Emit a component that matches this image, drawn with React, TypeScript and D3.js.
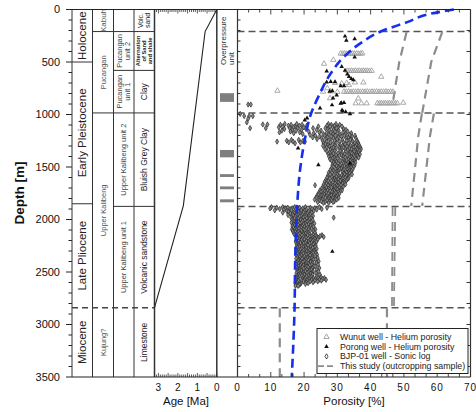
import React from 'react'
import * as d3 from 'd3'

const FONT = 'Liberation Sans, Arial, Helvetica, sans-serif'

// ---- axis labels
const depthLabels = [0, 500, 1000, 1500, 2000, 2500, 3000, 3500]
const ageLabels = [3, 2, 1, 0]
const porosityLabels = [0, 10, 20, 30, 40, 50, 60, 70]

// ---- stratigraphic columns (depth in m)
const epochs = [
  { name: ['Holocene'], top: 0, base: 500 },
  { name: ['Early Pleistocene'], top: 500, base: 1850 },
  { name: ['Late Pliocene'], top: 1850, base: 2840 },
  { name: ['Miocene'], top: 2840, base: 3500 },
]
const formations = [
  { name: ['Kabuh'], top: 0, base: 210 },
  { name: ['Pucangan'], top: 210, base: 985 },
  { name: ['Upper Kalibeng'], top: 985, base: 2840 },
  { name: ['Kujung?'], top: 2840, base: 3500 },
]
const units = [
  { name: ['Pucangan', 'unit 2'], top: 210, base: 580 },
  { name: ['Pucangan', 'unit 1'], top: 580, base: 985 },
  { name: ['Upper Kalibeng unit 2'], top: 985, base: 1875 },
  { name: ['Upper Kalibeng unit 1'], top: 1875, base: 2840 },
]
const lithology = [
  { name: ['Volc.', 'sand'], top: 0, base: 210 },
  { name: ['Alternation', 'of Sand', 'and shale'], top: 210, base: 580 },
  { name: ['Clay'], top: 580, base: 985 },
  { name: ['Bluish Grey Clay'], top: 985, base: 1875 },
  { name: ['Volcanic sandstone'], top: 1875, base: 2840 },
  { name: ['Limestone'], top: 2840, base: 3500 },
]
const epochLines = [500, 1850]
const formationLines = [210, 985]
const unitLines = [580, 1875]
const dashedBoundary = 2840
const porosityBoundaries = [210, 985, 1875, 2840]

// ---- age model [depth, age Ma]
const ageModel: [number, number][] = [[0, 0], [210, 0.6], [1870, 1.72], [2840, 3.2]]

// ---- overpressure units [top, base]
const overpressure: [number, number][] = [[797, 880], [1338, 1408], [1568, 1595], [1685, 1712], [1808, 1836]]

// ---- compaction trend [depth, porosity]
const trendCurve: [number, number][] = [
  [0, 65], [40, 58], [120, 51], [210, 43], [320, 37], [450, 32], [610, 28], [830, 24.3],
  [1000, 22], [1210, 20.4], [1500, 18.9], [1880, 17.9], [2290, 17.4], [2900, 17.1], [3500, 16.3],
]

// ---- this study (outcropping samples) [depth, porosity]
const studyLines: [number, number][][] = [
  [[215, 50.8], [500, 48.6], [900, 46.6]],
  [[215, 61.5], [500, 58.2], [985, 55.5]],
  [[990, 55.4], [1210, 54.3], [1870, 52.2]],
  [[990, 59.0], [1210, 57.8], [1870, 55.5]],
  [[1880, 46.6], [2840, 46.4]],
  [[1880, 47.4], [2840, 47.0]],
  [[2845, 12.7], [3500, 12.7]],
  [[2845, 44.9], [3500, 44.9]],
]

// ---- Wunut well helium porosity [depth, porosity]
const wunut: [number, number][] = [
  [420, 31], [421, 31.6], [420, 32.2], [422, 32.8], [419, 33.4], [421, 34], [420, 34.6], [422, 35.2],
  [419, 35.8], [421, 36.4], [420, 37], [418, 37.5], [480, 28.8],
  [517, 26], [584, 33], [585, 33.6], [584, 34.2], [586, 34.8], [583, 35.4], [585, 36], [584, 36.6],
  [586, 37.2], [583, 37.8], [585, 38.4], [584, 39], [586, 39.6], [584, 40.3],
  [641, 43.2], [700, 29.3], [705, 31.3], [700, 32.8], [695, 35.3], [695, 37.8], [720, 33.5],
  [774, 12], [783, 25.7], [781, 28], [785, 30], [783, 32], [784, 32.7], [782, 33.4], [785, 34.1],
  [783, 34.8], [784, 35.5], [782, 36.2], [785, 36.9], [783, 37.6], [784, 38.3], [782, 39], [785, 39.7],
  [783, 40.4], [784, 41.1], [782, 41.8], [785, 42.5], [783, 43.2], [784, 43.9], [782, 44.6], [785, 45.3],
  [783, 46], [784, 46.7], [750, 27], [845, 27.8], [847, 36.3], [894, 35.5], [894, 37.2], [894, 38.8],
  [893, 42], [895, 42.6], [893, 43.2], [894, 43.8], [892, 44.4], [895, 45], [893, 45.6], [894, 46.2],
  [892, 46.8], [894, 47.4], [893, 48], [888, 49.8],
]

// ---- Porong well helium porosity [depth, porosity]
const porong: [number, number][] = [
  [255, 32.3], [295, 32.7], [280, 35.2], [455, 35.2], [545, 31.3], [580, 32.3], [587, 26.8], [615, 33],
  [640, 33.5], [660, 34.2], [670, 34.8], [690, 29.3], [692, 26.8], [688, 28], [727, 31], [727, 32],
  [780, 27.7], [776, 28.5], [815, 29.8], [845, 28.7], [890, 31.2], [888, 32], [895, 31], [910, 28.4],
  [940, 24.8], [958, 31.4], [968, 31.6], [975, 32.5], [995, 33.8], [1035, 20.9], [1053, 20.2],
  [1320, 18.2], [1465, 33.8], [1481, 24.3], [2305, 28.5],
]

// ---- BJP-01 sonic log: [depth, porosity values...]
const sonicRows: number[][] = [
  [905, 3.2, 4.0], [995, 0.8], [1015, 2.0, 3.5, 4.6], [1040, 3.2], [1075, 2.8], [1095, 7.6, 9.0], [1130, 3.8, 8.5],
  [1090, 14.2, 17.8, 27.3, 29.6], [1098, 12.9, 16.1, 19.4, 28.2, 30.7], [1106, 15.3, 18.6, 20.8, 26.9, 29.1],
  [1114, 13.6, 17.2, 24.3, 27.8, 31.4], [1122, 12.4, 16.8, 19.9, 28.6, 30.2], [1130, 15.7, 18.1, 22.7, 26.4, 29.8],
  [1138, 14.1, 20.6, 27.2, 31.9], [1146, 16.4, 19.2, 23.8, 28.9, 32.6], [1154, 13.3, 17.6, 25.1, 27.6, 30.4],
  [1162, 15.9, 21.4, 29.3, 33.1], [1170, 12.6, 18.7, 24.6, 28.1, 31.7], [1178, 16.9, 22.9, 26.7, 30.1, 34.2],
  [1186, 19.6, 25.8, 28.7, 32.4], [1194, 21.8, 27.4, 30.9, 33.7], [1202, 23.4, 26.2, 29.4, 32.1, 35.3],
  [1210, 24.7, 28.3, 31.2, 34.4], [1218, 22.6, 27.1, 30.3, 33.2], [1226, 25.3, 28.8, 32.7, 35.6],
  [1234, 23.9, 26.6, 29.9, 34.1], [1242, 16.2, 18.4, 27.8, 31.5, 33.9], [1250, 14.8, 19.7, 25.6, 29.2, 32.8, 35.9],
  [1258, 11.9, 16.7, 20.3, 26.8, 30.6, 34.6], [1266, 15.4, 18.9, 27.9, 31.8, 36.2], [1274, 17.3, 25.9, 29.6, 33.4, 35.1],
  [1282, 26.4, 28.6, 32.3, 36.4], [1290, 27.2, 30.8, 34.7, 35.8], [1298, 25.7, 29.3, 31.6, 33.9, 36.6],
  [1306, 27.6, 30.4, 32.9, 35.4], [1314, 26.8, 28.9, 31.9, 34.8, 36.9], [1322, 28.1, 30.7, 33.6, 35.9],
  [1330, 26.3, 29.5, 32.4, 34.3, 37.1], [1338, 27.9, 31.1, 33.1, 36.1], [1346, 29.2, 30.9, 34.9, 36.7],
  [1354, 26.9, 28.4, 32.6, 35.2], [1362, 27.7, 31.4, 33.8, 36.3], [1370, 28.8, 30.2, 34.4, 35.7],
  [1378, 27.3, 32.2, 33.5, 36.8], [1386, 29.6, 31.3, 34.9, 35.6], [1394, 28.2, 30.6, 33.2, 36.1],
  [1402, 27.5, 31.8, 34.1, 35.3], [1410, 29.1, 32.4, 33.7, 36.4], [1418, 28.6, 30.1, 34.6],
  [1426, 27.8, 31.7, 33.3, 35.5], [1434, 29.4, 32.8, 34.2], [1442, 28.3, 30.9, 33.9, 35.1],
  [1450, 29.7, 31.6, 34.5], [1458, 28.9, 32.3, 33.4, 35.4], [1466, 30.2, 31.9, 34.7],
  [1474, 29.3, 32.6, 33.6], [1482, 28.5, 30.8, 33.9, 35.2], [1490, 29.8, 32.1, 34.3],
  [1498, 28.7, 31.4, 33.1, 34.9], [1506, 30.4, 32.7, 34.1], [1514, 28.2, 31.2, 33.5],
  [1522, 29.5, 30.6, 32.9, 34.6], [1530, 27.9, 31.7, 33.8], [1538, 28.8, 30.3, 32.5, 34.2],
  [1546, 29.7, 31.5, 33.3], [1554, 27.4, 30.1, 32.8, 33.9], [1562, 28.6, 31.9, 33.6],
  [1570, 27.8, 29.9, 32.2, 34.4], [1578, 28.9, 31.3, 33.2], [1586, 27.1, 30.5, 32.7],
  [1594, 28.4, 29.7, 31.8, 33.5], [1602, 26.9, 30.8, 32.4], [1610, 27.6, 29.2, 31.6, 33.3],
  [1618, 28.7, 30.4, 32.9], [1626, 26.5, 29.6, 31.2], [1634, 27.3, 28.8, 30.9, 32.6],
  [1642, 26.2, 29.9, 31.8], [1650, 27.8, 28.6, 30.3, 32.2], [1658, 26.7, 29.4, 31.5],
  [1666, 25.9, 28.1, 30.7, 32.4], [1674, 23.3, 27.2, 29.8, 31.1], [1682, 26.4, 28.5, 30.2],
  [1690, 25.6, 27.9, 29.3, 31.7], [1698, 26.8, 28.3, 30.6], [1706, 25.3, 27.4, 29.6, 31.2],
  [1714, 26.1, 28.9, 30.1], [1722, 24.8, 27.1, 28.7, 31.4], [1730, 26.3, 29.2, 30.8],
  [1738, 25.1, 27.6, 28.4, 30.3], [1746, 24.4, 26.7, 29.5], [1754, 25.7, 27.3, 28.9, 30.6],
  [1762, 24.2, 26.2, 29.1], [1770, 25.4, 27.8, 28.2, 30.1], [1778, 23.8, 26.6, 28.8],
  [1786, 24.9, 25.8, 27.5, 29.7], [1794, 23.6, 26.4, 28.6, 30.4], [1802, 24.7, 27.2, 29.4],
  [1810, 23.2, 25.5, 27.9, 29.8], [1818, 24.5, 26.9, 28.3], [1826, 25.2, 27.6, 29.1],
  [1834, 24.1, 26.3, 28.7], [1842, 25.8, 27.4],
  [1882, 10.2, 13.6, 17.2, 20.4, 24.6], [1888, 11.8, 15.1, 18.7, 21.9, 26.9], [1894, 9.8, 14.3, 16.4, 19.6, 23.1],
  [1900, 12.7, 15.8, 18.1, 22.4, 25.3], [1906, 13.9, 17.5, 20.7, 23.8], [1912, 11.2, 16.2, 19.2, 21.6],
  [1918, 14.8, 17.9, 20.1, 22.9], [1926, 15.4, 18.4, 21.3], [1934, 13.6, 16.9, 19.8, 22.2],
  [1942, 15.9, 18.8, 20.9], [1950, 16.6, 17.7, 19.4, 21.8], [1958, 15.2, 18.3, 20.6],
  [1966, 16.8, 19.1, 21.4, 22.7], [1974, 17.4, 18.6, 20.3], [1982, 16.1, 19.7, 21.1, 28.9],
  [1990, 17.1, 18.2, 20.8, 22.3], [1998, 16.4, 19.3, 21.6], [2006, 17.8, 18.9, 20.2, 22.6],
  [2014, 16.7, 19.6, 21.2], [2022, 17.3, 18.4, 20.9, 22.1], [2030, 16.2, 19.2, 21.7],
  [2038, 17.6, 18.7, 20.4, 23.1], [2046, 16.9, 19.9, 21.3], [2054, 17.2, 18.3, 20.7, 22.4],
  [2062, 16.5, 19.4, 21.9], [2070, 17.9, 18.8, 20.1, 22.8], [2078, 16.8, 19.1, 21.5],
  [2086, 17.4, 18.5, 20.6, 22.2], [2094, 16.3, 19.7, 21.4, 23.4], [2102, 17.7, 18.9, 20.3],
  [2110, 16.6, 19.3, 21.8, 22.9], [2118, 17.5, 18.2, 20.8], [2126, 16.9, 19.6, 21.2, 23.3],
  [2134, 17.8, 18.7, 20.5], [2142, 17.1, 19.8, 21.6, 22.7], [2150, 18.3, 19.4, 21.1, 23.6, 25.4],
  [2158, 17.6, 20.2, 22.4, 24.8], [2166, 18.7, 19.9, 21.7, 23.9, 25.9], [2174, 18.1, 20.6, 22.8, 24.3],
  [2182, 17.9, 19.5, 21.3, 23.2], [2190, 18.6, 20.1, 22.1, 24.1], [2198, 17.7, 19.2, 21.8, 22.9],
  [2206, 18.4, 20.7, 22.5], [2214, 17.5, 19.6, 21.4, 23.7], [2222, 18.9, 20.3, 22.2],
  [2230, 18.2, 19.8, 21.6, 23.1], [2238, 17.8, 20.9, 22.7], [2246, 18.5, 19.4, 21.2, 23.5],
  [2254, 17.9, 20.4, 22.3], [2262, 18.7, 19.7, 21.9, 23.3], [2270, 18.1, 20.6, 22.6],
  [2278, 17.6, 19.3, 21.4, 23.8], [2286, 18.8, 20.2, 22.1], [2294, 18.3, 19.9, 21.7, 23.2],
  [2302, 17.7, 20.8, 22.9], [2310, 18.6, 19.5, 21.3, 22.4], [2318, 18.2, 20.3, 22.7, 23.6],
  [2326, 17.9, 19.8, 21.5], [2334, 18.9, 20.6, 22.2, 23.9], [2342, 18.4, 19.2, 21.8],
  [2350, 17.8, 20.1, 22.5, 23.4], [2358, 18.7, 19.6, 21.1], [2366, 18.1, 20.9, 22.4, 24.1],
  [2374, 17.6, 19.4, 21.6], [2382, 18.5, 20.5, 22.8, 23.5], [2390, 18.2, 19.9, 21.3],
  [2398, 18.8, 20.2, 22.1, 24.4], [2406, 17.9, 19.7, 21.9], [2414, 18.6, 20.7, 22.6, 23.7],
  [2422, 18.3, 19.1, 21.4], [2430, 17.7, 20.4, 22.3, 24.2], [2438, 18.9, 19.8, 21.7],
  [2446, 18.4, 20.6, 22.9, 23.3], [2454, 17.8, 19.5, 21.2], [2462, 18.7, 20.3, 22.5, 24.6],
  [2470, 18.1, 19.9, 21.8], [2478, 18.6, 20.8, 22.2, 23.8], [2486, 17.9, 19.3, 21.6],
  [2494, 18.5, 20.4, 22.7, 24.3], [2502, 18.2, 19.7, 21.4], [2510, 17.7, 20.9, 22.4, 23.6],
  [2518, 18.8, 19.6, 21.9], [2526, 18.3, 20.2, 22.6, 24.8], [2534, 17.9, 19.4, 21.3],
  [2542, 18.6, 20.7, 22.1, 23.9], [2550, 18.1, 19.8, 21.7, 25.1], [2558, 17.8, 20.3, 22.8, 24.2, 26.1],
  [2566, 18.4, 19.6, 21.5, 23.4, 25.6], [2574, 17.6, 20.1, 22.3, 24.7, 26.6], [2582, 18.2, 19.3, 21.1, 23.2, 25.2],
  [2590, 17.5, 19.9, 21.8, 24.1], [2598, 17.9, 20.6, 22.7], [2606, 17.4, 19.1, 21.2],
  [2614, 17.7, 18.8, 20.4], [2622, 17.5, 18.6], [2632, 17.4, 18.2],
]

const legendItems = [
  'Wunut well  - Helium porosity',
  'Porong well - Helium porosity',
  'BJP-01 well - Sonic log',
  'This study (outcropping sample)',
]

// layout
const colX = [72, 92.5, 113.5, 134, 154.5]
const ageRight = 216.8
const porLeft = 237.5
const porRight = 470.5

function ColText(props: { x: number, top: number, base: number, lines: string[], size: number, color: string, weight?: string, y: any }) {
  const { x, top, base, lines, size, color, weight, y } = props
  const cy = (y(top) + y(base)) / 2
  const lh = size * 1.05
  return (
    <text transform={`translate(${x},${cy}) rotate(-90)`} textAnchor='middle'
      fontSize={size} fill={color} fontWeight={weight || 'normal'} fontFamily={FONT}>
      {lines.map((l, i) => (
        <tspan key={i} x={0} y={(i - (lines.length - 1) / 2) * lh + size * 0.35}>{l}</tspan>
      ))}
    </text>
  )
}

export default function App() {
  const y = d3.scaleLinear().domain([0, 3500]).range([9.5, 377])
  const xAge = d3.scaleLinear().domain([3.2, 0]).range([154.5, ageRight])
  const xPor = d3.scaleLinear().domain([0, 70]).range([porLeft, porRight])

  const ageLine = d3.line<[number, number]>().x(d => xAge(d[1])).y(d => y(d[0]))
  const porLine = d3.line<[number, number]>().x(d => xPor(d[1])).y(d => y(d[0]))
  const trendLine = d3.line<[number, number]>().x(d => xPor(d[1])).y(d => y(d[0])).curve(d3.curveMonotoneY)

  const sonic = sonicRows.flatMap(([d, ...ps]) => ps.map(p => [d, p] as [number, number]))
  const triOpen = d3.symbol(d3.symbolTriangle, 12)()
  const triFill = d3.symbol(d3.symbolTriangle, 9)()
  const diamond = d3.symbol(d3.symbolDiamond, 8)()

  const depthTicks = d3.range(0, 3501, 100)
  const yTop = y(0), yBot = y(3500)

  return (
    <svg width={476} height={412} style={{ position: 'absolute', left: 0, top: 0, background: '#fff' }}>
      {/* depth axis ticks */}
      {depthTicks.map(d => (
        <line key={'dt' + d} x1={colX[0] - (d % 500 === 0 ? 6 : 3.5)} x2={colX[0]} y1={y(d)} y2={y(d)} stroke='#222' strokeWidth={1} />
      ))}
      {depthLabels.map(d => (
        <text key={'dl' + d} x={60} y={y(d)} dy='0.35em' textAnchor='end' fontSize={11} fontFamily={FONT} fill='#111'>{d}</text>
      ))}
      <text transform={`translate(24,193) rotate(-90)`} textAnchor='middle' fontSize={13.5} fontWeight='bold' fontFamily={FONT} fill='#111'>Depth [m]</text>

      {/* column frame */}
      {colX.map((x, i) => (
        <line key={'cx' + i} x1={x} x2={x} y1={yTop} y2={yBot} stroke='#333' strokeWidth={i === 4 ? 1.5 : 1} />
      ))}
      {epochLines.map(d => <line key={'el' + d} x1={colX[0]} x2={colX[1]} y1={y(d)} y2={y(d)} stroke='#333' />)}
      {formationLines.map(d => <line key={'fl' + d} x1={colX[1]} x2={colX[4]} y1={y(d)} y2={y(d)} stroke='#333' />)}
      {unitLines.map(d => <line key={'ul' + d} x1={colX[2]} x2={colX[4]} y1={y(d)} y2={y(d)} stroke='#333' />)}
      <line x1={colX[0]} x2={colX[4]} y1={y(dashedBoundary)} y2={y(dashedBoundary)} stroke='#444' strokeWidth={1.4} strokeDasharray='6,4' />

      {epochs.map((e, i) => (
        <ColText key={'e' + i} x={(colX[0] + colX[1]) / 2} top={e.top} base={e.base} lines={e.name} size={11.5} color='#222' y={y} />
      ))}
      {formations.map((e, i) => (
        <ColText key={'f' + i} x={(colX[1] + colX[2]) / 2} top={e.top} base={e.base} lines={e.name} size={i === 0 ? 8 : 7.5} color='#555' y={y} />
      ))}
      {units.map((e, i) => (
        <ColText key={'u' + i} x={(colX[2] + colX[3]) / 2} top={e.top} base={e.base} lines={e.name} size={7.5} color='#444' y={y} />
      ))}
      {lithology.map((e, i) => (
        <ColText key={'l' + i} x={(colX[3] + colX[4]) / 2} top={e.top} base={e.base} lines={e.name}
          size={e.name.length === 3 ? 5.8 : e.name.length === 2 ? 7 : 8.5} weight={e.name.length === 3 ? 'bold' : 'normal'} color='#222' y={y} />
      ))}

      {/* age plot */}
      <line x1={ageRight} x2={ageRight} y1={yTop} y2={yBot} stroke='#333' strokeWidth={1.5} />
      {d3.range(0, 33).map(i => {
        const len = i % 5 === 0 ? 4 : 2.5
        const x = xAge(i * 0.1)
        return (
          <g key={'at' + i}>
            <line x1={x} x2={x} y1={yTop} y2={yTop + len} stroke='#333' strokeWidth={0.8} />
            <line x1={x} x2={x} y1={yBot} y2={yBot - len} stroke='#333' strokeWidth={0.8} />
          </g>
        )
      })}
      <path d={ageLine(ageModel) || ''} fill='none' stroke='#222' strokeWidth={1.1} />
      {ageLabels.map(a => (
        <text key={'al' + a} x={xAge(a)} y={391} textAnchor='middle' fontSize={10} fontFamily={FONT} fill='#111'>{a}</text>
      ))}
      <text x={186} y={405} textAnchor='middle' fontSize={11.5} fontFamily={FONT} fill='#111'>Age [Ma]</text>

      {/* overpressure column */}
      <text transform={`translate(223,65) rotate(-90)`} fontSize={8} fontFamily={FONT} fill='#333' dy='0.35em'>Overpressure</text>
      <text transform={`translate(231.5,65) rotate(-90)`} fontSize={8} fontFamily={FONT} fill='#333' dy='0.35em'>unit</text>
      {overpressure.map(([t, b], i) => (
        <rect key={'op' + i} x={220} y={y(t)} width={14} height={y(b) - y(t)} fill='#7f7f7f' />
      ))}

      {/* porosity plot */}
      {porosityBoundaries.map(d => (
        <line key={'pb' + d} x1={porLeft} x2={porRight} y1={y(d)} y2={y(d)} stroke='#555' strokeWidth={1.5} strokeDasharray='7,4' />
      ))}
      {studyLines.map((s, i) => (
        <path key={'sl' + i} d={porLine(s) || ''} fill='none' stroke='#8c8c8c' strokeWidth={i === 4 || i === 5 ? 1.8 : 2.2} strokeDasharray='9,6' />
      ))}
      {sonic.map((d, i) => (
        <path key={'s' + i} d={diamond || ''} transform={`translate(${xPor(d[1])},${y(d[0])})`} fill='#8a8a8a' stroke='#2a2a2a' strokeWidth={0.7} />
      ))}
      {wunut.map((d, i) => (
        <path key={'w' + i} d={triOpen || ''} transform={`translate(${xPor(d[1])},${y(d[0])})`} fill='none' stroke='#a0a0a0' strokeWidth={0.9} />
      ))}
      {porong.map((d, i) => (
        <path key={'p' + i} d={triFill || ''} transform={`translate(${xPor(d[1])},${y(d[0])})`} fill='#111' />
      ))}
      <path d={trendLine(trendCurve) || ''} fill='none' stroke='#1430ee' strokeWidth={2.6} strokeDasharray='9,5' />

      {/* porosity frame & ticks */}
      <line x1={colX[0]} x2={porRight} y1={yTop} y2={yTop} stroke='#222' strokeWidth={1.2} />
      <line x1={colX[0]} x2={porRight} y1={yBot} y2={yBot} stroke='#222' strokeWidth={1.2} />
      <line x1={porLeft} x2={porLeft} y1={yTop} y2={yBot} stroke='#333' strokeWidth={1.2} />
      <line x1={porRight} x2={porRight} y1={yTop} y2={yBot} stroke='#333' strokeWidth={1.2} />
      {depthTicks.filter(d => d > 0 && d < 3500).map(d => (
        <g key={'pt' + d}>
          <line x1={porLeft} x2={porLeft + 3} y1={y(d)} y2={y(d)} stroke='#333' />
          {d % 200 === 0 && <line x1={porRight} x2={porRight - 4} y1={y(d)} y2={y(d)} stroke='#333' />}
        </g>
      ))}
      {d3.range(0, 22).map(i => {
        const x = xPor(i * 10 / 3)
        const len = i % 3 === 0 ? 5 : 3
        return (
          <g key={'px' + i}>
            <line x1={x} x2={x} y1={yTop} y2={yTop + len} stroke='#333' strokeWidth={0.9} />
            <line x1={x} x2={x} y1={yBot} y2={yBot - len} stroke='#333' strokeWidth={0.9} />
          </g>
        )
      })}
      {porosityLabels.map(p => (
        <text key={'pl' + p} x={xPor(p)} y={391} textAnchor='middle' fontSize={10} letterSpacing={1} fontFamily={FONT} fill='#111'>{p}</text>
      ))}
      <text x={354} y={405} textAnchor='middle' fontSize={11.5} fontFamily={FONT} fill='#111'>Porosity [%]</text>

      {/* legend */}
      <rect x={317} y={328.5} width={151} height={45} fill='#fff' stroke='#222' strokeWidth={1} />
      {legendItems.map((t, i) => (
        <text key={'lg' + i} x={340} y={337 + i * 9.7} dy='0.35em' fontSize={8.8} fontFamily={FONT} fill='#222'>{t}</text>
      ))}
      <path d={triOpen || ''} transform='translate(326.5,337)' fill='none' stroke='#9c9c9c' strokeWidth={0.9} />
      <path d={triFill || ''} transform='translate(326.5,346.7)' fill='#111' />
      <path d={diamond || ''} transform='translate(326.5,356.4)' fill='#fff' stroke='#262626' strokeWidth={0.8} />
      <line x1={318} x2={335} y1={366.1} y2={366.1} stroke='#8c8c8c' strokeWidth={1.6} strokeDasharray='6,3' />
    </svg>
  )
}
